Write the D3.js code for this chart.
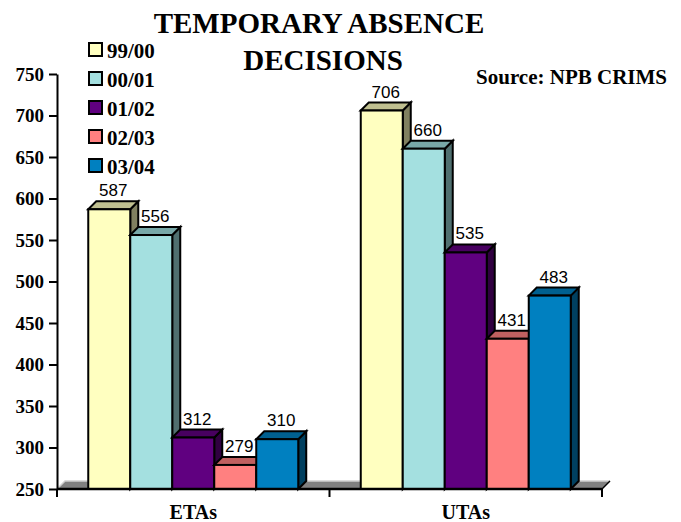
<!DOCTYPE html>
<html>
<head>
<meta charset="utf-8">
<script src="https://cdn.jsdelivr.net/npm/d3@7/dist/d3.min.js"></script>
<style>
  html, body { margin: 0; padding: 0; background: #fff; }
  svg { display: block; }
  .serif { font-family: "Liberation Serif", "Times New Roman", serif; font-weight: bold; }
  .sans { font-family: "Liberation Sans", Arial, sans-serif; }
</style>
</head>
<body>
<svg id="chart" width="681" height="522"></svg>
<script>
// Temporary absence decisions by fiscal year
const categories = ["ETAs", "UTAs"];
const seriesNames = ["99/00", "00/01", "01/02", "02/03", "03/04"];
const etaValues = [587, 556, 312, 279, 310];
const utaValues = [706, 660, 535, 431, 483];
const yTicks = [250, 300, 350, 400, 450, 500, 550, 600, 650, 700, 750];

// front / top / side shading for each series
const frontColors = ["#FFFFC0", "#A4E0E0", "#600080", "#FF8080", "#0080C0"];
const topColors   = ["#C0C090", "#78A8A8", "#480060", "#C06060", "#006090"];
const sideColors  = ["#808060", "#507070", "#300040", "#804040", "#004060"];

const valuesByCategory = { ETAs: etaValues, UTAs: utaValues };

const svg = d3.select("#chart");
const plotLeft = 57, plotRight = 602, plotBottom = 489, plotTop = 74;
const depth = 8;

const y = d3.scaleLinear().domain([250, 750]).range([plotBottom, plotTop]);
const x0 = d3.scaleBand().domain(categories).range([plotLeft, plotRight])
  .paddingInner(0.2294).paddingOuter(0.1147);
const x1 = d3.scaleBand().domain(seriesNames).range([0, x0.bandwidth()]);

// floor
svg.append("polygon")
  .attr("points", [[plotLeft, plotBottom], [plotLeft + depth, plotBottom - depth], [plotRight + depth, plotBottom - depth], [plotRight, plotBottom]].join(" "))
  .attr("fill", "#808080");
svg.append("polyline")
  .attr("points", [[plotLeft + 1, plotBottom - 1], [plotLeft + depth, plotBottom - depth], [plotRight + depth, plotBottom - depth]].join(" "))
  .attr("fill", "none").attr("stroke", "#D0D0D0").attr("stroke-width", 1.5);

// bars
const bars = [];
categories.forEach(c => {
  valuesByCategory[c].forEach((v, i) => {
    bars.push({ cat: c, series: seriesNames[i], value: v, idx: i });
  });
});

const g = svg.append("g");
bars.forEach(d => {
  const L = x0(d.cat) + x1(d.series);
  const R = L + x1.bandwidth();
  const yt = y(d.value);
  const bar = g.append("g")
    .attr("stroke", "#000").attr("stroke-width", 2).attr("stroke-linejoin", "miter");
  // side face
  bar.append("polygon")
    .attr("points", [[R, plotBottom], [R, yt], [R + depth, yt - depth], [R + depth, plotBottom - depth]].join(" "))
    .attr("fill", sideColors[d.idx]);
  // top face
  bar.append("polygon")
    .attr("points", [[L, yt], [L + depth, yt - depth], [R + depth, yt - depth], [R, yt]].join(" "))
    .attr("fill", topColors[d.idx]);
  // front face
  bar.append("rect")
    .attr("x", L).attr("y", yt).attr("width", R - L).attr("height", plotBottom - yt)
    .attr("fill", frontColors[d.idx]);
});

// value labels
bars.forEach(d => {
  svg.append("text").attr("class", "sans")
    .attr("x", x0(d.cat) + x1(d.series) + x1.bandwidth() / 2 + depth / 2)
    .attr("y", y(d.value) - depth - 5)
    .attr("text-anchor", "middle")
    .attr("font-size", 17)
    .attr("fill", "#000")
    .text(d.value);
});

// y axis
const yAxis = svg.append("g")
  .attr("transform", `translate(${plotLeft},0)`)
  .call(d3.axisLeft(y).tickValues(yTicks).tickSize(8).tickSizeOuter(0).tickPadding(5));
yAxis.select(".domain").attr("stroke", "#000").attr("stroke-width", 2);
yAxis.selectAll(".tick line").attr("stroke", "#000").attr("stroke-width", 2);
yAxis.selectAll(".tick text")
  .attr("class", "serif").attr("font-size", 19).attr("fill", "#000");

// x axis: labels at band centres, ticks at band boundaries
const xAxis = svg.append("g")
  .attr("transform", `translate(0,${plotBottom})`)
  .call(d3.axisBottom(x0).tickSize(0).tickPadding(16));
xAxis.select(".domain").remove();
xAxis.selectAll(".tick text")
  .attr("class", "serif").attr("font-size", 20).attr("fill", "#000");

svg.append("line")
  .attr("x1", plotLeft).attr("x2", plotRight).attr("y1", plotBottom).attr("y2", plotBottom)
  .attr("stroke", "#000").attr("stroke-width", 2.5);
const step = x0.step();
[plotLeft, plotLeft + step, plotRight].forEach(xv => {
  svg.append("line")
    .attr("x1", xv).attr("x2", xv).attr("y1", plotBottom).attr("y2", plotBottom + 8)
    .attr("stroke", "#000").attr("stroke-width", 2);
});
svg.append("line")
  .attr("x1", plotRight).attr("x2", plotRight + depth).attr("y1", plotBottom).attr("y2", plotBottom - depth)
  .attr("stroke", "#000").attr("stroke-width", 1.5);

// legend
const legend = svg.append("g");
seriesNames.forEach((s, i) => {
  const ly = 43 + i * 29;
  legend.append("rect")
    .attr("x", 89).attr("y", ly).attr("width", 13).attr("height", 13)
    .attr("fill", frontColors[i]).attr("stroke", "#000").attr("stroke-width", 2);
  legend.append("text").attr("class", "serif")
    .attr("x", 107).attr("y", ly + 15)
    .attr("font-size", 21).attr("fill", "#000")
    .text(s);
});

// title
svg.append("text").attr("class", "serif")
  .attr("x", 319).attr("y", 33).attr("text-anchor", "middle")
  .attr("font-size", 29).attr("fill", "#000")
  .text("TEMPORARY ABSENCE");
svg.append("text").attr("class", "serif")
  .attr("x", 323).attr("y", 70).attr("text-anchor", "middle")
  .attr("font-size", 29).attr("fill", "#000")
  .text("DECISIONS");

// source note
svg.append("text").attr("class", "serif")
  .attr("x", 667).attr("y", 84).attr("text-anchor", "end")
  .attr("font-size", 21).attr("fill", "#000")
  .text("Source: NPB CRIMS");
</script>
</body>
</html>
